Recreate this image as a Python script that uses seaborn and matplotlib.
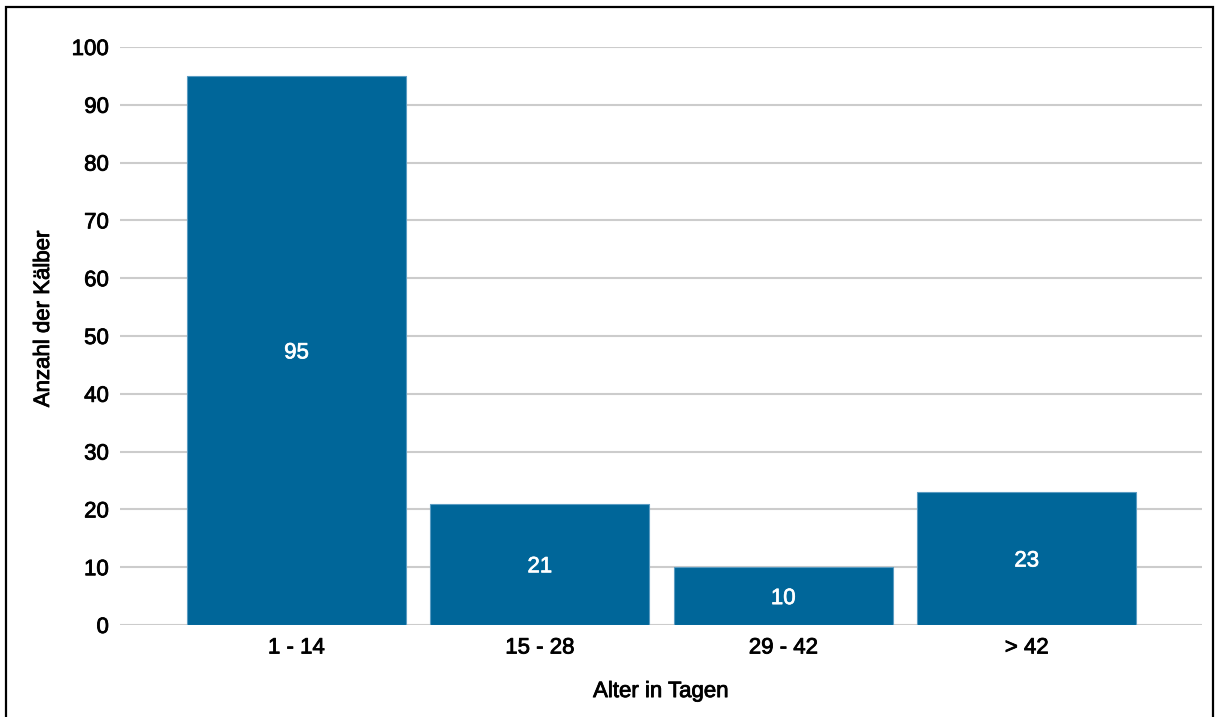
import matplotlib
matplotlib.use("Agg")
import matplotlib.pyplot as plt
import matplotlib.patheffects as pe
from matplotlib.patches import Rectangle
import seaborn as sns
import pandas as pd

# Calf counts by age group
age_groups = ["1 - 14", "15 - 28", "29 - 42", "> 42"]
calf_counts = [95, 21, 10, 23]
y_ticks = [0, 10, 20, 30, 40, 50, 60, 70, 80, 90, 100]

sns.set_theme(style="white")
plt.rcParams["font.family"] = ["Liberation Sans", "DejaVu Sans"]

df = pd.DataFrame({"Alter": age_groups, "Anzahl": calf_counts})

fig = plt.figure(figsize=(12.19, 7.17), dpi=100)
ax = fig.add_axes([120 / 1219, 1 - 625 / 717, (1202 - 120) / 1219, (625 - 47) / 717])

bar_color = "#006699"
sns.barplot(data=df, x="Alter", y="Anzahl", color=bar_color, width=0.9,
            saturation=1, edgecolor="#5b9cc2", linewidth=0.8, ax=ax, zorder=3)

ax.set_ylim(0, 100)
ax.set_xlim(-0.725, 3.72)
ax.set_yticks(y_ticks)
ax.yaxis.grid(True, color="#cccccc", linewidth=1.5, zorder=0)
ax.set_axisbelow(True)
for s in ax.spines.values():
    s.set_visible(False)

fs = 16
thick_dark = [pe.withStroke(linewidth=0.6, foreground="black")]
thick_white = [pe.withStroke(linewidth=0.5, foreground="white")]

ax.tick_params(axis="both", length=0, labelsize=fs, colors="black")
ax.tick_params(axis="y", pad=8)
ax.tick_params(axis="x", pad=9)
for lbl in ax.get_xticklabels() + ax.get_yticklabels():
    lbl.set_path_effects(thick_dark)

# value labels centred inside each bar
for i, v in enumerate(calf_counts):
    ax.text(i, v / 2, str(v), ha="center", va="center_baseline", color="white",
            fontsize=fs, path_effects=thick_white)

ax.set_xlabel("Alter in Tagen", fontsize=fs, color="black", path_effects=thick_dark)
ax.set_ylabel("Anzahl der Kälber", fontsize=fs, color="black", path_effects=thick_dark)
ax.xaxis.set_label_coords(0.5, -0.097)
ax.yaxis.set_label_coords(-0.061, 0.53)

# outer frame (bottom edge runs just past the canvas)
fig.patches.append(Rectangle((6 / 1219, -4 / 717), 1207 / 1219, 714 / 717,
                             transform=fig.transFigure, fill=False,
                             edgecolor="black", linewidth=1.6))

fig.savefig("out.png", dpi=100)
